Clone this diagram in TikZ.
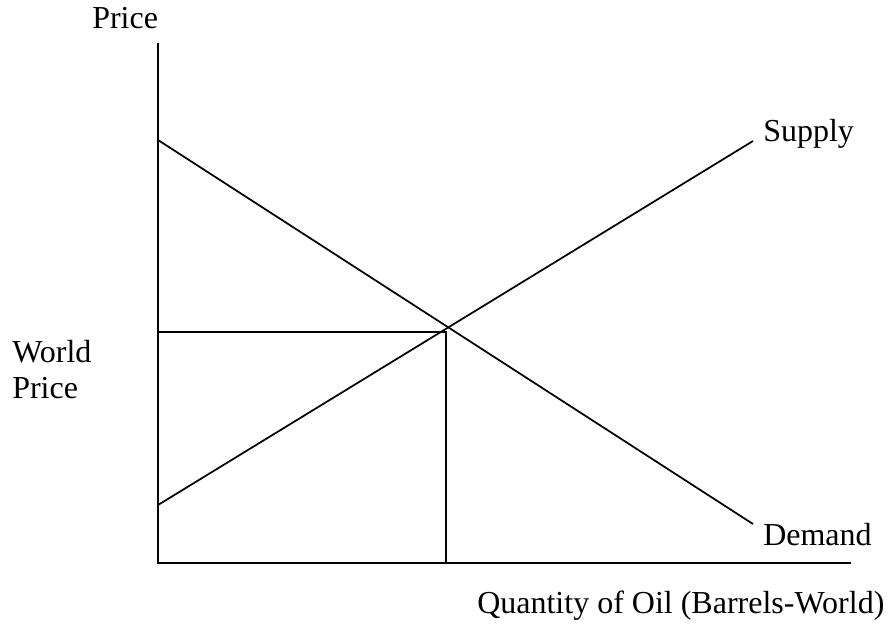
\documentclass[tikz,border=0pt]{standalone}
\usepackage{fontspec}
\setmainfont{Liberation Serif}
\begin{document}
\begin{tikzpicture}[x=0.75pt,y=-0.75pt,
  lbl/.style={inner sep=0pt,anchor=base west,font=\fontsize{24}{36}\selectfont},
  ln/.style={line width=1.3pt,line cap=rect}]
\useasboundingbox (0,0) rectangle (891,632);
\coordinate (top) at (158,44);
\coordinate (o) at (158,563);
\coordinate (xend) at (850,563);
\coordinate (d0) at (158,140);
\coordinate (d1) at (753,524);
\coordinate (s0) at (158,505);
\coordinate (s1) at (753,141);
\coordinate (wp) at (158,332);
\coordinate (eq) at (446,332);
\coordinate (q) at (446,563);
\draw[ln] (top) -- (o) -- (xend);
\draw[ln,line cap=butt] (d0) -- (d1);
\draw[ln,line cap=butt] (s0) -- (s1);
\draw[ln] (wp) -- (eq) -- (q);
\node[lbl] (price) at (92,28) {Price};
\node[lbl] (supply) at (763,141) {Supply};
\node[lbl] (demand) at (763,545) {Demand};
\node[lbl] (world) at (12,362) {World};
\node[lbl] (wprice) at (12,398) {Price};
\node[lbl] (qty) at (477,613) {Quantity of Oil (Barrels-World)};
\end{tikzpicture}
\end{document}
